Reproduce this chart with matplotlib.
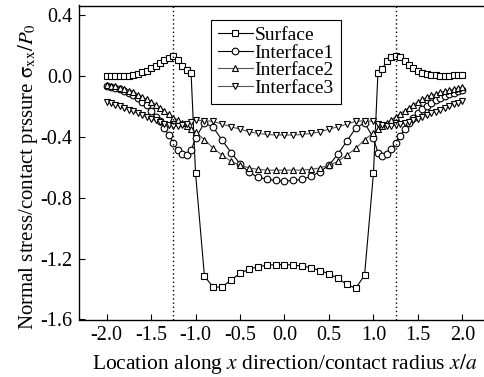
import matplotlib
matplotlib.use("Agg")
import matplotlib.pyplot as plt

plt.rcParams['font.family'] = ['Liberation Serif', 'DejaVu Serif']
plt.rcParams['mathtext.fontset'] = 'stix'

# x locations
x_left = [-2.00, -1.95, -1.90, -1.85, -1.80, -1.75, -1.70, -1.65, -1.60, -1.55,
          -1.50, -1.45, -1.40, -1.35, -1.30, -1.25, -1.20, -1.15, -1.10, -1.05, -1.00]
x_inner = [-0.9, -0.8, -0.7, -0.6, -0.5, -0.4, -0.3, -0.2, -0.1, 0.0,
           0.1, 0.2, 0.3, 0.4, 0.5, 0.6, 0.7, 0.8, 0.9]
x_right = [1.00, 1.05, 1.10, 1.15, 1.20, 1.25, 1.30, 1.35, 1.40, 1.45, 1.50,
           1.55, 1.60, 1.65, 1.70, 1.75, 1.80, 1.85, 1.90, 1.95, 2.00]

surface_left = [-0.005, -0.005, -0.005, -0.004, -0.002, 0.000, 0.005, 0.012, 0.022, 0.033,
                0.047, 0.062, 0.080, 0.100, 0.118, 0.127, 0.105, 0.060, 0.035, 0.015, -0.640]
surface_inner = [-1.315, -1.390, -1.385, -1.341, -1.297, -1.270, -1.254, -1.245, -1.240, -1.240,
                 -1.243, -1.250, -1.260, -1.280, -1.300, -1.330, -1.370, -1.395, -1.310]
surface_right = [-0.640, 0.015, 0.045, 0.097, 0.123, 0.128, 0.120, 0.093, 0.070, 0.050, 0.032,
                 0.018, 0.008, 0.004, 0.002, 0.000, 0.000, 0.000, 0.001, 0.002, 0.003]

if1_left = [-0.070, -0.075, -0.080, -0.090, -0.100, -0.115, -0.130, -0.150, -0.172, -0.195,
            -0.235, -0.270, -0.300, -0.345, -0.390, -0.440, -0.490, -0.512, -0.520, -0.490, -0.410]
if1_inner = [-0.310, -0.340, -0.425, -0.505, -0.578, -0.635, -0.665, -0.680, -0.688, -0.692,
             -0.688, -0.680, -0.660, -0.630, -0.587, -0.515, -0.430, -0.345, -0.310]
if1_right = [-0.410, -0.505, -0.525, -0.515, -0.480, -0.440, -0.395, -0.350, -0.310, -0.275, -0.245,
             -0.220, -0.198, -0.180, -0.163, -0.148, -0.135, -0.122, -0.112, -0.103, -0.095]

if2_left = [-0.060, -0.065, -0.070, -0.080, -0.090, -0.100, -0.110, -0.125, -0.140, -0.155,
            -0.170, -0.190, -0.210, -0.230, -0.255, -0.275, -0.290, -0.310, -0.330, -0.350, -0.370]
if2_inner = [-0.420, -0.478, -0.522, -0.563, -0.588, -0.605, -0.615, -0.620, -0.620, -0.620,
             -0.620, -0.620, -0.615, -0.605, -0.588, -0.563, -0.522, -0.478, -0.420]
if2_right = [-0.375, -0.350, -0.330, -0.310, -0.290, -0.270, -0.250, -0.230, -0.210, -0.190, -0.172,
             -0.156, -0.142, -0.130, -0.120, -0.110, -0.102, -0.095, -0.088, -0.082, -0.077]

if3_left = [-0.170, -0.180, -0.190, -0.200, -0.212, -0.224, -0.235, -0.246, -0.258, -0.270,
            -0.283, -0.294, -0.305, -0.315, -0.323, -0.330, -0.330, -0.325, -0.315, -0.303, -0.292]
if3_inner = [-0.296, -0.300, -0.318, -0.336, -0.351, -0.369, -0.379, -0.386, -0.390, -0.390,
             -0.390, -0.386, -0.379, -0.369, -0.351, -0.336, -0.318, -0.300, -0.296]
if3_right = [-0.300, -0.318, -0.325, -0.330, -0.330, -0.326, -0.320, -0.312, -0.303, -0.293, -0.283,
             -0.272, -0.260, -0.248, -0.236, -0.224, -0.212, -0.200, -0.188, -0.177, -0.165]

series_names = ["Surface", "Interface1", "Interface2", "Interface3"]
series_markers = ["s", "o", "^", "v"]
series_lines = ["black", "black", "#555555", "#555555"]

xticks = [-2.0, -1.5, -1.0, -0.5, 0.0, 0.5, 1.0, 1.5, 2.0]
yticks = [0.4, 0.0, -0.4, -0.8, -1.2, -1.6]
edge_lines = [-1.25, 1.25]

x_all = x_left + x_inner + x_right
series_vals = [surface_left + surface_inner + surface_right,
               if1_left + if1_inner + if1_right,
               if2_left + if2_inner + if2_right,
               if3_left + if3_inner + if3_right]

fig = plt.figure(figsize=(4.85, 3.77), dpi=100)
ax = fig.add_axes([79/485, 57.5/377, 411/485, 314/377])

for name, mk, lc, vals in zip(series_names, series_markers, series_lines, series_vals):
    ax.plot(x_all, vals, color=lc, lw=0.8, marker=mk, markersize=4.8,
            markerfacecolor='white', markeredgecolor='black', markeredgewidth=0.8,
            label=name)

for xv in edge_lines:
    ax.axvline(xv, color='black', lw=1.0, linestyle=(0, (1, 2)))

ax.set_xlim(-2.31, 2.31)
ax.set_ylim(-1.6, 0.46)
ax.set_xticks(xticks)
ax.set_xticklabels([f"{t:.1f}" for t in xticks])
ax.set_yticks(yticks)
ax.set_yticklabels([f"{t:.1f}" for t in yticks])
ax.tick_params(direction='in', length=4, width=0.8, labelsize=14.5)
ax.tick_params(axis='x', pad=5)
ax.tick_params(axis='y', pad=5)
ax.spines['right'].set_visible(False)
for s in ['left', 'bottom', 'top']:
    ax.spines[s].set_linewidth(1.0)

ax.set_xlabel(r"Location along $x$ direction/contact radius $x/a$", fontsize=15.5, labelpad=5)
ax.set_ylabel(r"Normal stress/contact prssure $\mathrm{\sigma}_{\mathrm{xx}}/P_0$", fontsize=15)
ax.yaxis.set_label_coords(-0.095, 0.457)

leg = ax.legend(loc='upper left', bbox_to_anchor=(132/411, 1 - 14/314), fontsize=14,
                frameon=True, fancybox=False, edgecolor='black', framealpha=1,
                handlelength=1.8, handletextpad=0.1, borderpad=0.35, labelspacing=0.0,
                borderaxespad=0)
leg.get_frame().set_linewidth(0.8)

fig.savefig("out.png", dpi=100)
